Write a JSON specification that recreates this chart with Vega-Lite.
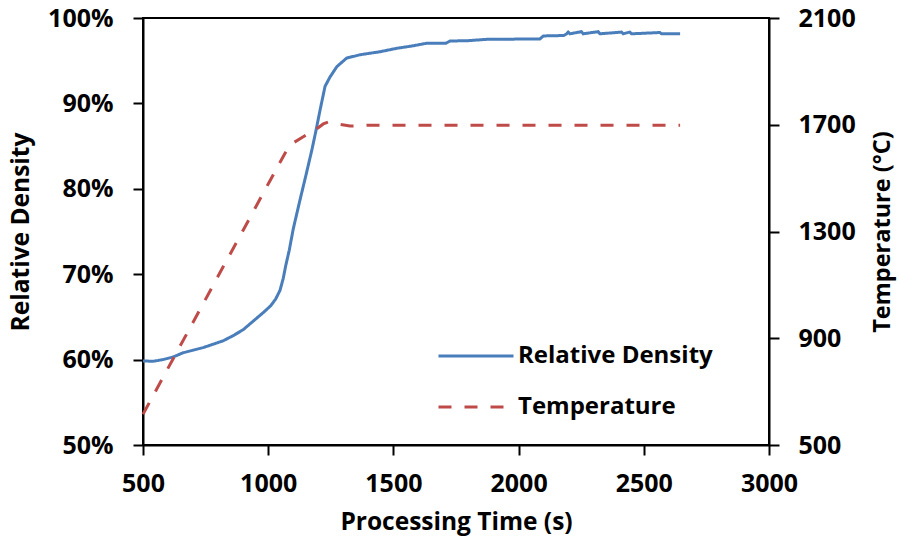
{
  "$schema": "https://vega.github.io/schema/vega-lite/v6.json",
  "width": 626,
  "height": 427,
  "autosize": {"type": "none"},
  "padding": {"left": 143, "top": 18, "right": 130, "bottom": 99},
  "background": "white",
  "config": {
    "view": {"stroke": "black", "strokeWidth": 2},
    "font": "Open Sans",
    "axis": {
      "labelFont": "Open Sans",
      "labelFontWeight": "bold",
      "labelFontSize": 25,
      "labelColor": "black",
      "titleFont": "Open Sans",
      "titleFontWeight": "bold",
      "titleFontSize": 24.5,
      "titleColor": "black",
      "domainColor": "black",
      "domainWidth": 2,
      "tickColor": "black",
      "tickWidth": 2,
      "tickSize": 10,
      "grid": false
    }
  },
  "datasets": {
    "density": [
      {"t": 500, "v": 0.5985}, {"t": 540, "v": 0.598}, {"t": 580, "v": 0.600}, {"t": 620, "v": 0.603},
      {"t": 660, "v": 0.608}, {"t": 700, "v": 0.611}, {"t": 740, "v": 0.614}, {"t": 780, "v": 0.618},
      {"t": 820, "v": 0.622}, {"t": 860, "v": 0.628}, {"t": 900, "v": 0.635}, {"t": 940, "v": 0.645},
      {"t": 980, "v": 0.655}, {"t": 1010, "v": 0.663}, {"t": 1030, "v": 0.671}, {"t": 1047, "v": 0.681},
      {"t": 1060, "v": 0.695}, {"t": 1070, "v": 0.710}, {"t": 1084, "v": 0.728}, {"t": 1100, "v": 0.753},
      {"t": 1127, "v": 0.787}, {"t": 1150, "v": 0.815}, {"t": 1174, "v": 0.845}, {"t": 1190, "v": 0.867},
      {"t": 1207, "v": 0.892}, {"t": 1227, "v": 0.920}, {"t": 1247, "v": 0.931}, {"t": 1274, "v": 0.943},
      {"t": 1313, "v": 0.953}, {"t": 1367, "v": 0.957}, {"t": 1447, "v": 0.9605}, {"t": 1513, "v": 0.9645},
      {"t": 1580, "v": 0.9675}, {"t": 1633, "v": 0.9705}, {"t": 1710, "v": 0.9705}, {"t": 1726, "v": 0.973},
      {"t": 1800, "v": 0.9735}, {"t": 1872, "v": 0.975}, {"t": 2085, "v": 0.9755}, {"t": 2099, "v": 0.979},
      {"t": 2180, "v": 0.9795}, {"t": 2192, "v": 0.9815}, {"t": 2198, "v": 0.9835}, {"t": 2205, "v": 0.9815},
      {"t": 2251, "v": 0.984}, {"t": 2258, "v": 0.9815}, {"t": 2318, "v": 0.984}, {"t": 2325, "v": 0.9815},
      {"t": 2411, "v": 0.9835}, {"t": 2418, "v": 0.9815}, {"t": 2444, "v": 0.9835}, {"t": 2451, "v": 0.9815},
      {"t": 2564, "v": 0.983}, {"t": 2571, "v": 0.9815}, {"t": 2645, "v": 0.9815}
    ],
    "temperature": [
      {"t": 500, "v": 615}, {"t": 600, "v": 788}, {"t": 700, "v": 960}, {"t": 800, "v": 1133},
      {"t": 900, "v": 1305}, {"t": 1000, "v": 1478}, {"t": 1074, "v": 1605}, {"t": 1100, "v": 1632},
      {"t": 1140, "v": 1655}, {"t": 1187, "v": 1680}, {"t": 1220, "v": 1703}, {"t": 1240, "v": 1710},
      {"t": 1274, "v": 1703}, {"t": 1327, "v": 1695}, {"t": 1400, "v": 1698}, {"t": 2645, "v": 1698}
    ]
  },
  "encoding": {
    "x": {
      "field": "t",
      "type": "quantitative",
      "scale": {"domain": [500, 3000], "nice": false, "zero": false},
      "axis": {
        "title": "Processing Time (s)",
        "values": [500, 1000, 1500, 2000, 2500, 3000],
        "format": "d",
        "labelPadding": 16,
        "titlePadding": 14,
        "labelFlush": false
      }
    },
    "color": {
      "field": "series",
      "type": "nominal",
      "scale": {"domain": ["Relative Density", "Temperature"], "range": ["#4A7EBB", "#BE4B48"]},
      "legend": {
        "title": null,
        "orient": "none",
        "legendX": 294,
        "legendY": 299,
        "symbolType": "stroke",
        "symbolSize": 5625,
        "symbolStrokeWidth": 3,
        "labelFont": "Open Sans",
        "labelFontWeight": "bold",
        "labelFontSize": 24,
        "labelColor": "black",
        "labelOffset": 3,
        "labelLimit": 400,
        "rowPadding": -23
      }
    },
    "strokeDash": {
      "field": "series",
      "type": "nominal",
      "scale": {"domain": ["Relative Density", "Temperature"], "range": [[1, 0], [13, 13]]},
      "legend": null
    }
  },
  "layer": [
    {
      "data": {"name": "density"},
      "transform": [{"calculate": "'Relative Density'", "as": "series"}],
      "mark": {"type": "line", "strokeWidth": 3, "interpolate": "linear"},
      "encoding": {
        "y": {
          "field": "v",
          "type": "quantitative",
          "scale": {"domain": [0.5, 1.0], "nice": false, "zero": false},
          "axis": {
            "title": "Relative Density",
            "format": ".0%",
            "values": [0.5, 0.6, 0.7, 0.8, 0.9, 1.0],
            "labelPadding": 20,
            "titlePadding": 14
          }
        }
      }
    },
    {
      "data": {"name": "temperature"},
      "transform": [{"calculate": "'Temperature'", "as": "series"}],
      "mark": {"type": "line", "strokeWidth": 3, "interpolate": "linear"},
      "encoding": {
        "y": {
          "field": "v",
          "type": "quantitative",
          "scale": {"domain": [500, 2100], "nice": false, "zero": false},
          "axis": {
            "orient": "right",
            "title": "Temperature (°C)",
            "titleAngle": 270,
            "titleFontSize": 23.5,
            "values": [500, 900, 1300, 1700, 2100],
            "format": "d",
            "labelPadding": 19,
            "titlePadding": 39
          }
        }
      }
    }
  ],
  "resolve": {"scale": {"y": "independent"}}
}
